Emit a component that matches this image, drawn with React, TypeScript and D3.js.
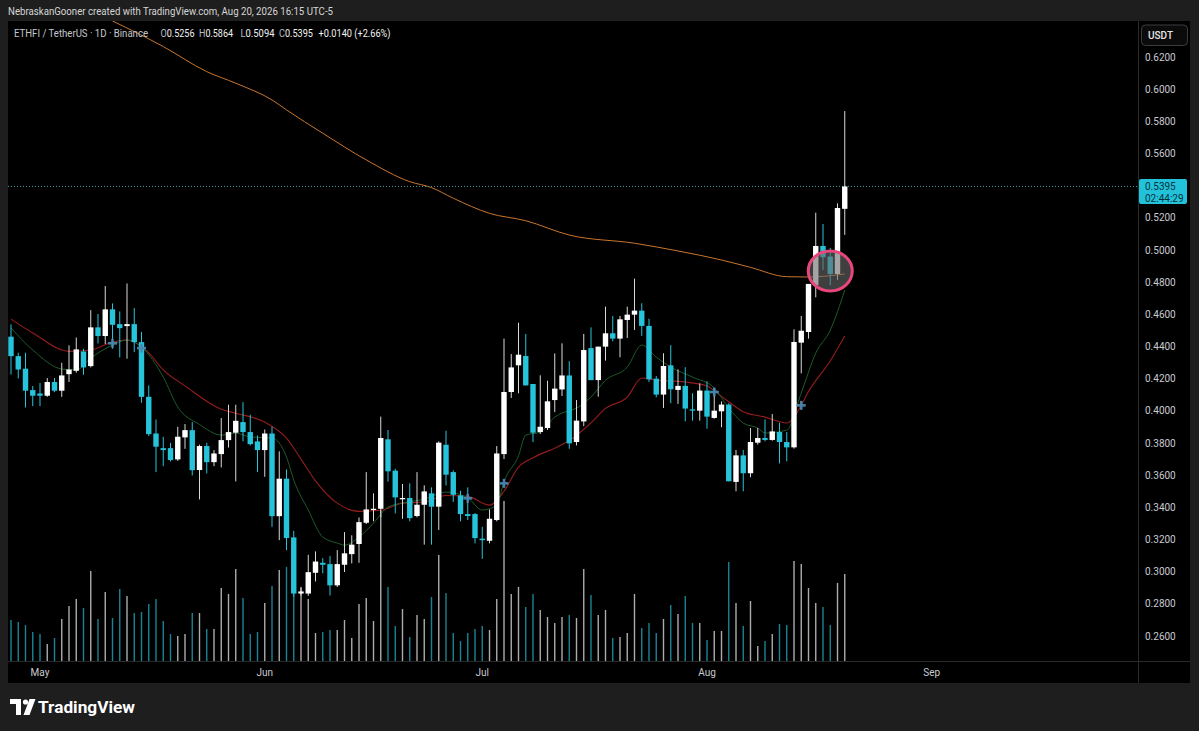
import React from "react";
import * as d3 from "d3";

const W = 1199;
const H = 731;

const opens = [0.4461,0.4340,0.4262,0.4129,0.4108,0.4094,0.4179,0.4125,0.4228,0.4249,
0.4369,0.4278,0.4519,0.4465,0.4631,0.4539,0.4527,0.4539,0.4427,0.4087,
0.3859,0.3768,0.3768,0.3698,0.3835,0.3880,0.3632,0.3781,0.3681,0.3731,
0.3818,0.3864,0.3930,0.3868,0.3810,0.3756,0.3859,0.3345,0.3578,0.3213,
0.2864,0.2864,0.2993,0.3055,0.3047,0.2915,0.3043,0.3109,0.3172,0.3304,
0.3383,0.3391,0.3823,0.3628,0.3450,0.3458,0.3346,0.3416,0.3487,0.3404,
0.3789,0.3619,0.3474,0.3358,0.3358,0.3205,0.3192,0.3321,0.3731,0.4117,
0.4283,0.4341,0.4167,0.3868,0.3893,0.4067,0.4133,0.4220,0.3806,0.3934,
0.4390,0.4191,0.4399,0.4482,0.4449,0.4565,0.4598,0.4623,0.4528,0.4200,
0.4101,0.4283,0.4130,0.4155,0.4009,0.4001,0.4126,0.3956,0.3997,0.4039,
0.3558,0.3723,0.3612,0.3802,0.3831,0.3819,0.3868,0.3806,0.3773,0.4424,
0.4490,0.4781,0.5025,0.4959,0.4851,0.5256];

const highs = [0.4537,0.4361,0.4361,0.4154,0.4174,0.4204,0.4204,0.4299,0.4407,0.4456,
0.4386,0.4626,0.4602,0.4776,0.4668,0.4618,0.4792,0.4639,0.4490,0.4158,
0.3946,0.3839,0.3801,0.3901,0.3918,0.3930,0.3790,0.3801,0.3756,0.3955,
0.4038,0.4038,0.4054,0.3976,0.3847,0.3884,0.3901,0.3748,0.3636,0.3254,
0.2906,0.3105,0.3126,0.3084,0.3097,0.3134,0.3246,0.3226,0.3337,0.3619,
0.3487,0.3964,0.3881,0.3640,0.3545,0.3549,0.3619,0.3537,0.3524,0.3810,
0.3876,0.3630,0.3503,0.3524,0.3365,0.3279,0.3387,0.3781,0.4449,0.4353,
0.4548,0.4478,0.4167,0.4221,0.4187,0.4357,0.4420,0.4308,0.4067,0.4478,
0.4519,0.4399,0.4648,0.4590,0.4590,0.4648,0.4822,0.4669,0.4573,0.4217,
0.4358,0.4408,0.4258,0.4271,0.4109,0.4171,0.4184,0.4142,0.4059,0.4047,
0.3757,0.3757,0.3893,0.3893,0.3947,0.3980,0.3926,0.3868,0.4507,0.4590,
0.4789,0.5232,0.5162,0.5013,0.5290,0.5864];

const lows = [0.4226,0.4201,0.4021,0.4029,0.4029,0.4087,0.4116,0.4087,0.4179,0.4237,
0.4224,0.4270,0.4419,0.4415,0.4386,0.4332,0.4324,0.4365,0.4050,0.3843,
0.3619,0.3656,0.3685,0.3689,0.3764,0.3598,0.3449,0.3611,0.3656,0.3648,
0.3772,0.3561,0.3810,0.3785,0.3619,0.3590,0.3279,0.3196,0.3134,0.2844,
0.2850,0.2850,0.2939,0.2990,0.2852,0.2905,0.2998,0.3051,0.3055,0.3296,
0.3313,0.3340,0.3560,0.3362,0.3329,0.3313,0.3338,0.3168,0.3168,0.3259,
0.3536,0.3433,0.3313,0.3321,0.3176,0.3080,0.3176,0.3313,0.3700,0.4080,
0.4109,0.4158,0.3806,0.3856,0.3881,0.3992,0.4092,0.3764,0.3785,0.3905,
0.4191,0.4088,0.4312,0.4432,0.4333,0.4453,0.4503,0.4466,0.4179,0.4084,
0.4018,0.4047,0.4043,0.3935,0.3939,0.3939,0.3889,0.3951,0.3898,0.3562,
0.3500,0.3500,0.3587,0.3790,0.3810,0.3814,0.3673,0.3686,0.3765,0.4233,
0.4449,0.4706,0.4876,0.4780,0.4814,0.5094];

const closes = [0.4340,0.4257,0.4125,0.4094,0.4094,0.4179,0.4125,0.4220,0.4257,0.4382,
0.4270,0.4519,0.4465,0.4631,0.4535,0.4514,0.4539,0.4427,0.4087,0.3855,
0.3777,0.3756,0.3694,0.3839,0.3880,0.3631,0.3781,0.3681,0.3735,0.3818,
0.3868,0.3938,0.3868,0.3793,0.3756,0.3859,0.3345,0.3578,0.3209,0.2864,
0.2877,0.2997,0.3063,0.3043,0.2915,0.3047,0.3114,0.3168,0.3308,0.3387,
0.3391,0.3831,0.3624,0.3462,0.3458,0.3333,0.3416,0.3499,0.3404,0.3802,
0.3603,0.3478,0.3358,0.3346,0.3209,0.3196,0.3329,0.3735,0.4117,0.4270,
0.4349,0.4158,0.3864,0.3901,0.4059,0.4138,0.4220,0.3798,0.3939,0.4378,
0.4191,0.4399,0.4482,0.4449,0.4569,0.4598,0.4623,0.4528,0.4196,0.4101,
0.4279,0.4134,0.4155,0.4014,0.4001,0.4126,0.3964,0.4001,0.4039,0.3562,
0.3723,0.3612,0.3806,0.3831,0.3819,0.3872,0.3806,0.3773,0.4428,0.4498,
0.4789,0.5025,0.4955,0.4851,0.5261,0.5395];

const volumes = [4.1,3.9,3.6,2.9,2.7,1.7,2.3,4.2,5.5,6.2,
5.3,9.0,4.2,6.9,4.3,7.2,6.5,4.8,4.9,5.7,
6.2,4.0,2.7,2.5,2.7,4.8,4.8,3.2,3.2,7.3,
6.7,9.2,6.3,2.7,2.9,5.8,7.5,9.1,9.4,10.0,
7.3,6.2,2.8,2.9,3.1,3.1,4.1,2.3,5.7,6.3,
4.0,15.0,7.4,3.5,5.2,2.4,4.6,4.2,6.4,10.6,
6.8,2.8,2.0,2.8,3.2,3.5,3.1,6.2,16.0,6.7,
7.4,5.4,6.7,5.1,4.4,3.8,4.4,4.6,4.3,9.2,
6.6,4.6,5.1,2.3,2.4,2.8,6.7,3.3,3.8,2.8,
4.2,5.6,4.7,6.5,3.8,3.8,2.1,3.0,3.0,9.9,
5.8,3.5,6.0,1.5,2.0,2.7,3.7,3.6,10.0,9.7,
7.3,5.8,5.4,3.6,7.8,8.7];

// Moving averages: [candle index, price]
const emaFastPts: [number, number][] = [
  [0,0.4515],[3,0.4378],[7,0.4260],[9,0.4254],[11,0.4328],[14,0.4409],[16,0.4440],[18,0.4397],
  [21,0.4210],[23,0.4024],[26,0.3915],[29,0.3849],[31,0.3862],[33,0.3837],[36,0.3831],[38,0.3713],
  [39,0.3570],[41,0.3383],[43,0.3215],[45,0.3178],[46,0.3165],[48,0.3215],[50,0.3302],[52,0.3402],
  [54,0.3426],[57,0.3451],[60,0.3495],[63,0.3458],[65,0.3383],[67,0.3414],[68,0.3560],[70,0.3720],
  [71,0.3849],[73,0.3868],[75,0.3961],[76,0.3986],[78,0.4017],[80,0.4086],[82,0.4190],[85,0.4272],
  [87,0.4409],[89,0.4334],[91,0.4272],[94,0.4210],[97,0.4142],[99,0.4017],[101,0.3924],[103,0.3893],
  [104,0.3862],[107,0.3880],[109,0.4111],[111,0.4359],[113,0.4502],[115,0.4751]
];
const emaSlowPts: [number, number][] = [
  [0,0.4570],[3,0.4484],[8,0.4370],[11,0.4378],[14,0.4428],[16,0.4440],[19,0.4360],[21,0.4255],
  [24,0.4155],[29,0.4010],[31,0.3985],[35,0.3930],[38,0.3830],[40,0.3700],[42,0.3565],[45,0.3426],
  [48,0.3375],[51,0.3382],[54,0.3426],[57,0.3433],[60,0.3474],[63,0.3468],[66,0.3414],[68,0.3500],
  [70,0.3650],[72,0.3708],[75,0.3768],[77,0.3815],[80,0.3925],[82,0.4015],[85,0.4085],[87,0.4204],
  [89,0.4192],[93,0.4179],[96,0.4155],[98,0.4090],[101,0.3995],[104,0.3961],[107,0.3924],[109,0.4035],
  [110,0.4120],[113,0.4310],[115,0.4465]
];
const smaLongPts: [number, number][] = [
  [14,0.6424],[21,0.6265],[27,0.6109],[31,0.6037],[36,0.5933],[38,0.5871],[43,0.5726],[49,0.5560],
  [55,0.5425],[58,0.5388],[61,0.5322],[66,0.5228],[71,0.5182],[77,0.5093],[86,0.5042],[92,0.4994],
  [98,0.4938],[102,0.4892],[107,0.4834],[110,0.4832],[115,0.4851]
];

const crossIdx = [14, 18, 63, 68, 97, 109];
const crossPrice = [0.4420, 0.4390, 0.3456, 0.3549, 0.4117, 0.4034];

const priceTicks = [0.62,0.60,0.58,0.56,0.54,0.52,0.50,0.48,0.46,0.44,0.42,0.40,0.38,0.36,0.34,0.32,0.30,0.28,0.26];
const monthLabels = ["May", "Jun", "Jul", "Aug", "Sep"];
const monthStarts = [[2026,4,1],[2026,5,1],[2026,6,1],[2026,7,1],[2026,8,1]];

const circleIdx = 113;
const circlePrice = 0.487;
const lastPrice = 0.5395;
const countdown = "02:44:29";

const creditText = "NebraskanGooner created with TradingView.com, Aug 20, 2026 16:15 UTC-5";
const symbolText = "ETHFI / TetherUS · 1D · Binance";
const ohlcLabels = ["O", "H", "L", "C"];
const ohlcValues = ["0.5256", "0.5864", "0.5094", "0.5395"];
const changeText = "+0.0140 (+2.66%)";

const UP = "#ffffff";
const DOWN = "#26c4da";
const FONT = "Roboto, 'Liberation Sans', sans-serif";

export default function App() {
  const start = Date.UTC(2026, 3, 27);
  const DAY = 86400000;
  const x = d3.scaleUtc()
    .domain([new Date(start), new Date(Date.UTC(2026, 8, 1))])
    .range([11, 931.75]);
  const xi = (i: number) => x(new Date(start + i * DAY));
  const y = d3.scaleLinear().domain([0.26, 0.62]).range([636, 57]);
  const v = d3.scaleLinear().domain([0, 16]).range([661, 501]);

  const pane = { x0: 8, x1: 1138, y0: 21, y1: 661 };
  const lineGen = d3.line<[number, number]>()
    .x((d) => xi(d[0]))
    .y((d) => y(d[1]))
    .curve(d3.curveMonotoneX);

  const bodyW = 5.4;
  const ohlcX = [160.5, 199, 240.5, 279];

  return (
    <div style={{ position: "fixed", left: 0, top: 0, width: W, height: H, background: "#1e1e1e" }}>
      <svg width={W} height={H} style={{ display: "block" }} fontFamily={FONT}>
        <defs>
          <clipPath id="paneClip">
            <rect x={pane.x0} y={pane.y0} width={pane.x1 - pane.x0} height={pane.y1 - pane.y0} />
          </clipPath>
        </defs>
        <rect x={0} y={0} width={W} height={H} fill="#1e1e1e" />
        {/* chart area */}
        <rect x={8} y={21} width={1182} height={662} fill="#000000" />
        {/* axis separators */}
        <line x1={1138.5} x2={1138.5} y1={21} y2={683} stroke="#2a2a2a" strokeWidth={1} />
        <line x1={8} x2={1190} y1={661.5} y2={661.5} stroke="#2a2a2a" strokeWidth={1} />

        <g clipPath="url(#paneClip)">
          {/* volume */}
          {volumes.map((vol, i) => (
            <line key={"v" + i} x1={xi(i)} x2={xi(i)} y1={v(0)} y2={v(vol)}
              stroke={closes[i] >= opens[i] ? "rgba(215,215,215,0.8)" : "rgba(34,165,185,0.8)"}
              strokeWidth={1.4} />
          ))}
          {/* moving averages */}
          <path d={lineGen(smaLongPts) || ""} fill="none" stroke="#c9762e" strokeWidth={1} />
          <path d={lineGen(emaSlowPts) || ""} fill="none" stroke="#951d1d" strokeWidth={1.1} />
          <path d={lineGen(emaFastPts) || ""} fill="none" stroke="#1d5a2a" strokeWidth={1} />
          {/* last price line */}
          <line x1={pane.x0} x2={pane.x1} y1={y(lastPrice)} y2={y(lastPrice)}
            stroke="#3f9aa0" strokeWidth={1} strokeDasharray="1 2" />
          {/* candles */}
          {opens.map((o, i) => {
            const c = closes[i];
            const up = c >= o;
            const col = up ? UP : DOWN;
            const top = y(Math.max(o, c));
            const bot = y(Math.min(o, c));
            const cx = xi(i);
            return (
              <g key={"c" + i}>
                <line x1={cx} x2={cx} y1={y(highs[i])} y2={y(lows[i])} stroke={up ? "#d8d8d8" : DOWN} strokeWidth={1} />
                <rect x={cx - bodyW / 2} y={top} width={bodyW} height={Math.max(1, bot - top)} fill={col} />
              </g>
            );
          })}
          {/* cross markers */}
          {crossIdx.map((ci, k) => {
            const cx = xi(ci);
            const cy = y(crossPrice[k]);
            return (
              <g key={"x" + k} stroke="#4a86b0" strokeWidth={2.6} opacity={0.95}>
                <line x1={cx - 4.5} x2={cx + 4.5} y1={cy} y2={cy} />
                <line x1={cx} x2={cx} y1={cy - 4.5} y2={cy + 4.5} />
              </g>
            );
          })}
          {/* highlight circle */}
          <ellipse cx={xi(circleIdx)} cy={y(circlePrice)} rx={22} ry={20}
            fill="rgba(105,105,105,0.6)" stroke="#e8467c" strokeWidth={3} />
        </g>

        {/* price axis */}
        {priceTicks.map((t) => (
          <text key={"t" + t} x={1145} y={y(t) + 3.6} fontSize={10} fill="#c9cbd1">
            {t.toFixed(4)}
          </text>
        ))}
        <rect x={1141.5} y={25} width={46} height={20.5} rx={4} fill="#0b0b0b" stroke="#3c3c3c" strokeWidth={1} />
        <text x={1148} y={39} fontSize={10} fill="#e6e6e6" fontWeight={500}>USDT</text>
        <rect x={1139} y={179} width={48} height={25} rx={2} fill="#22c3da" />
        <text x={1145} y={189.5} fontSize={10} fill="#06303a">{lastPrice.toFixed(4)}</text>
        <text x={1145} y={201.5} fontSize={10} fill="#06303a">{countdown}</text>

        {/* time axis */}
        {monthLabels.map((m, k) => {
          const d = monthStarts[k];
          return (
            <text key={m} x={x(new Date(Date.UTC(d[0], d[1], d[2])))} y={675.5} fontSize={10}
              fill="#c9cbd1" textAnchor="middle">{m}</text>
          );
        })}

        {/* header */}
        <text x={8} y={15} fontSize={10.5} fill="#d6d6d6" textLength={325} lengthAdjust="spacingAndGlyphs">
          {creditText}
        </text>
        <text x={14} y={37} fontSize={10.5} fill="#c5c7cc" textLength={134} lengthAdjust="spacingAndGlyphs">
          {symbolText}
        </text>
        {ohlcLabels.map((l, k) => (
          <text key={l} x={ohlcX[k]} y={37} fontSize={10.5} textLength={34} lengthAdjust="spacingAndGlyphs">
            <tspan fill="#b9bcc3">{l}</tspan>
            <tspan fill="#f2f2f2">{ohlcValues[k]}</tspan>
          </text>
        ))}
        <text x={318.5} y={37} fontSize={10.5} fill="#f2f2f2" textLength={72} lengthAdjust="spacingAndGlyphs">
          {changeText}
        </text>

        {/* footer logo */}
        <g fill="#ffffff">
          <path d="M10 699 H21 V715 H16 V704 H10 Z" />
          <circle cx={25.5} cy={702} r={2.6} />
          <path d="M29.5 699 H35.5 L29.5 715 H23.5 Z" />
        </g>
        <text x={38} y={713} fontSize={16.5} fontWeight={700} fill="#ffffff" textLength={97} lengthAdjust="spacingAndGlyphs">
          TradingView
        </text>
      </svg>
    </div>
  );
}
